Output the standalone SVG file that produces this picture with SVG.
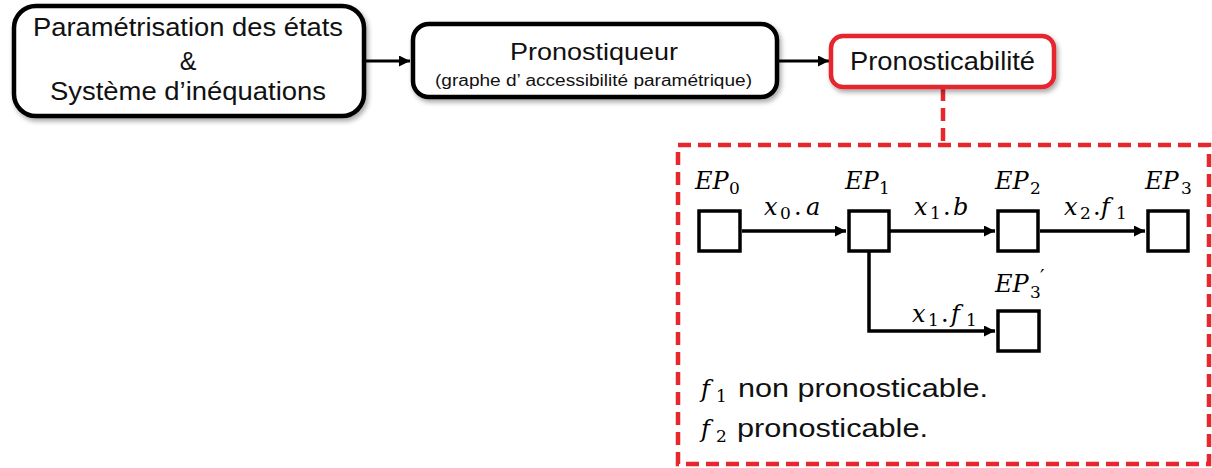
<svg xmlns="http://www.w3.org/2000/svg" width="1212" height="468" viewBox="0 0 1212 468">
<style>
.box{fill:#fff;stroke:#000;stroke-width:4.5}
.rbox{fill:#fff;stroke:#e6282e;stroke-width:4.5}
.t{font-family:"Liberation Sans",Arial,sans-serif;fill:#111}
.m{font-family:"DejaVu Serif","Liberation Serif",serif;font-style:italic;font-size:24px;fill:#000}
.s{font-family:"DejaVu Serif","Liberation Serif",serif;font-style:normal;font-size:17px;fill:#000}
.u{font-style:normal}
.sq{fill:#fff;stroke:#000;stroke-width:3.5}
.ln{fill:none;stroke:#000;stroke-width:3.5}
.dash{fill:none;stroke:#e6282e;stroke-width:4.5;stroke-dasharray:13 7}
</style>
<defs>
<filter id="sh" x="-10%" y="-10%" width="125%" height="140%">
<feDropShadow dx="2" dy="3" stdDeviation="2.5" flood-color="#000" flood-opacity="0.35"/>
</filter>
<marker id="ah" viewBox="0 0 10 10" refX="10" refY="5" markerUnits="userSpaceOnUse" markerWidth="13" markerHeight="11" orient="auto">
<path d="M0,0 L10,5 L0,10 z" fill="#000"/>
</marker>
</defs>

<g id="connectors">
<line class="ln" x1="366" y1="61" x2="410" y2="61" marker-end="url(#ah)" style="stroke-width:3"/>
<line class="ln" x1="779" y1="61" x2="829" y2="61" marker-end="url(#ah)" style="stroke-width:3"/>
<line class="dash" x1="943" y1="88" x2="943" y2="145"/>
<line class="ln" x1="742" y1="231" x2="846" y2="231" marker-end="url(#ah)"/>
<line class="ln" x1="890" y1="231" x2="995" y2="231" marker-end="url(#ah)"/>
<line class="ln" x1="1040" y1="231" x2="1145" y2="231" marker-end="url(#ah)"/>
<polyline class="ln" points="869,252 869,331 995,331" marker-end="url(#ah)"/>
</g>

<g id="node-parametrisation">
<rect class="box" x="14" y="6" width="350" height="110" rx="22" filter="url(#sh)"/>
<text class="t" x="33" y="36" font-size="25" textLength="310" lengthAdjust="spacingAndGlyphs">Paramétrisation des états</text>
<text class="t" x="188" y="70" font-size="25" text-anchor="middle">&amp;</text>
<text class="t" x="50" y="100" font-size="25" textLength="276" lengthAdjust="spacingAndGlyphs">Système d’inéquations</text>
</g>

<g id="node-pronostiqueur">
<rect class="box" x="413" y="24" width="364" height="73" rx="16" filter="url(#sh)"/>
<text class="t" x="510" y="60" font-size="24" textLength="168" lengthAdjust="spacingAndGlyphs">Pronostiqueur</text>
<text class="t" x="435" y="86" font-size="16" textLength="317" lengthAdjust="spacingAndGlyphs">(graphe d’ accessibilité paramétrique)</text>
</g>

<g id="node-pronosticabilite">
<rect class="rbox" x="831" y="36" width="223" height="51" rx="12" filter="url(#sh)"/>
<text class="t" x="850" y="70" font-size="25" textLength="185" lengthAdjust="spacingAndGlyphs">Pronosticabilité</text>
</g>

<g id="detail-frame">
<rect class="dash" x="678" y="145" width="531" height="319"/>
</g>

<g id="EP0">
<rect class="sq" x="699" y="211" width="41" height="40"/>
<text class="m" y="189"><tspan x="695">EP</tspan><tspan class="s" x="729" y="194">0</tspan></text>
</g>
<g id="EP1">
<rect class="sq" x="849" y="211" width="40" height="40"/>
<text class="m" y="189"><tspan x="845">EP</tspan><tspan class="s" x="879" y="194">1</tspan></text>
</g>
<g id="EP2">
<rect class="sq" x="998" y="211" width="40" height="40"/>
<text class="m" y="189"><tspan x="995">EP</tspan><tspan class="s" x="1030" y="194">2</tspan></text>
</g>
<g id="EP3">
<rect class="sq" x="1148" y="211" width="40" height="40"/>
<text class="m" y="189"><tspan x="1145">EP</tspan><tspan class="s" x="1181" y="194">3</tspan></text>
</g>
<g id="EP3prime">
<rect class="sq" x="998" y="311" width="41" height="40"/>
<text class="m" y="292"><tspan x="995">EP</tspan><tspan class="s" x="1030" y="298">3</tspan><tspan class="s" x="1040" y="284" style="font-size:20px">′</tspan></text>
</g>

<g id="edge-labels">
<text class="m" y="215"><tspan x="764">x</tspan><tspan class="s" x="780" y="219">0</tspan><tspan class="u" x="794" y="215">.</tspan><tspan x="806">a</tspan></text>
<text class="m" y="215"><tspan x="914">x</tspan><tspan class="s" x="930" y="219">1</tspan><tspan class="u" x="943" y="215">.</tspan><tspan x="953">b</tspan></text>
<text class="m" y="215"><tspan x="1064">x</tspan><tspan class="s" x="1080" y="219">2</tspan><tspan class="u" x="1093" y="215">.</tspan><tspan x="1101">f</tspan><tspan class="s" x="1116" y="219">1</tspan></text>
<text class="m" y="322"><tspan x="912">x</tspan><tspan class="s" x="928" y="326">1</tspan><tspan class="u" x="941" y="322">.</tspan><tspan x="951">f</tspan><tspan class="s" x="966" y="326">1</tspan></text>
</g>

<g id="legend">
<text class="m" y="397" font-size="26"><tspan x="701">f</tspan><tspan class="s" x="716" y="402" font-size="18">1</tspan></text>
<text class="t" x="738" y="397" font-size="26" textLength="250" lengthAdjust="spacingAndGlyphs">non pronosticable.</text>
<text class="m" y="437" font-size="26"><tspan x="701">f</tspan><tspan class="s" x="716" y="442" font-size="18">2</tspan></text>
<text class="t" x="737" y="437" font-size="26" textLength="191" lengthAdjust="spacingAndGlyphs">pronosticable.</text>
</g>
</svg>
